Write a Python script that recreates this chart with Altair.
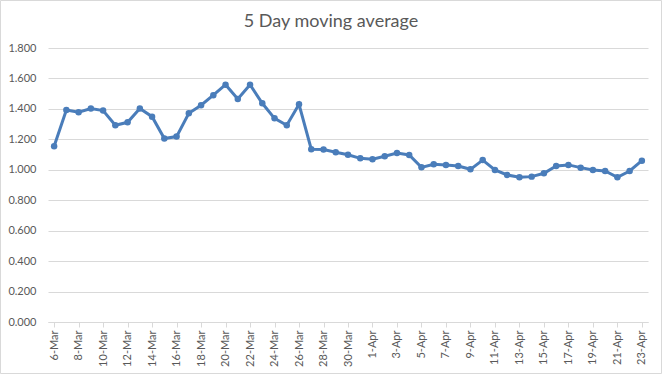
import altair as alt
import pandas as pd

dates = [
    "6-Mar", "7-Mar", "8-Mar", "9-Mar", "10-Mar", "11-Mar", "12-Mar", "13-Mar",
    "14-Mar", "15-Mar", "16-Mar", "17-Mar", "18-Mar", "19-Mar", "20-Mar", "21-Mar",
    "22-Mar", "23-Mar", "24-Mar", "25-Mar", "26-Mar", "27-Mar", "28-Mar", "29-Mar",
    "30-Mar", "31-Mar", "1-Apr", "2-Apr", "3-Apr", "4-Apr", "5-Apr", "6-Apr",
    "7-Apr", "8-Apr", "9-Apr", "10-Apr", "11-Apr", "12-Apr", "13-Apr", "14-Apr",
    "15-Apr", "16-Apr", "17-Apr", "18-Apr", "19-Apr", "20-Apr", "21-Apr", "22-Apr",
    "23-Apr",
]
values = [
    1.155, 1.393, 1.378, 1.402, 1.389, 1.292, 1.312, 1.402, 1.349, 1.205,
    1.218, 1.371, 1.424, 1.490, 1.559, 1.465, 1.559, 1.437, 1.338, 1.292,
    1.430, 1.135, 1.133, 1.115, 1.099, 1.075, 1.069, 1.089, 1.110, 1.097,
    1.016, 1.036, 1.032, 1.025, 1.003, 1.064, 0.999, 0.966, 0.951, 0.955,
    0.977, 1.025, 1.032, 1.014, 0.999, 0.992, 0.951, 0.992, 1.060,
]
label_dates = dates[::2]
y_ticks = [0, 0.2, 0.4, 0.6, 0.8, 1.0, 1.2, 1.4, 1.6, 1.8]
title_text = "5 Day moving average"

df = pd.DataFrame({"date": dates, "value": values})

FONT = "Lato"
GREY = "#595959"
LINE = "#4A7DBA"

x_enc = alt.X(
    "date:N",
    sort=dates,
    scale=alt.Scale(paddingInner=0, paddingOuter=0),
    axis=alt.Axis(
        title=None,
        values=label_dates,
        labelAngle=-90,
        labelFont=FONT,
        labelFontSize=11,
        labelColor=GREY,
        labelPadding=3,
        tickSize=5,
        tickColor="#d9d9d9",
        domainColor="#d9d9d9",
        bandPosition=0,
        grid=False,
        labelOverlap=False,
    ),
)
y_enc = alt.Y(
    "value:Q",
    scale=alt.Scale(domain=[0, 1.8], nice=False),
    axis=alt.Axis(
        title=None,
        values=y_ticks,
        format=".3f",
        labelFont=FONT,
        labelFontSize=11,
        labelColor=GREY,
        labelPadding=12,
        ticks=False,
        tickSize=0,
        domain=False,
        grid=True,
        gridColor="#d9d9d9",
        gridWidth=1,
    ),
)

line = alt.Chart(df).mark_line(
    color=LINE, strokeWidth=3,
    point=alt.OverlayMarkDef(filled=True, size=42, color=LINE),
).encode(x=x_enc, y=y_enc)

border = alt.Chart(alt.Data(values=[{}])).mark_rect(
    fill=None, stroke="#d9d9d9", strokeWidth=1
).encode(
    x=alt.value(-47.5), x2=alt.value(613.5),
    y=alt.value(-47.5), y2=alt.value(325.5),
)

title = alt.Chart(alt.Data(values=[{"t": title_text}])).mark_text(
    font=FONT, fontSize=18, color=GREY, align="center", baseline="alphabetic"
).encode(
    text="t:N", x=alt.value(283), y=alt.value(-21),
)

chart = alt.layer(line, border, title).properties(
    width=600,
    height=274,
    padding={"left": 48, "top": 48, "right": 14, "bottom": 53},
    autosize=alt.AutoSizeParams(type="none"),
    background="white",
).configure_view(stroke=None)

chart.save("out.html", embed_options={"renderer": "svg", "actions": False})
